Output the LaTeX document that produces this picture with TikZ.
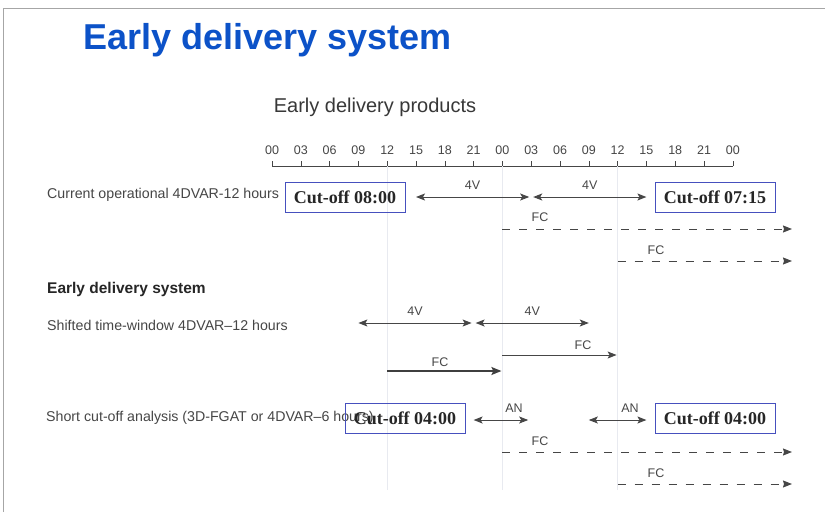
\documentclass[tikz,border=0pt]{standalone}
\usepackage{fontspec}
\setmainfont{Liberation Serif}
\setsansfont{Liberation Sans}
\usetikzlibrary{arrows.meta}
\definecolor{titleblue}{RGB}{12,82,200}
\definecolor{boxblue}{RGB}{70,80,190}
\definecolor{ink}{RGB}{70,70,70}
\definecolor{guide}{RGB}{232,234,240}
\tikzset{
  lbl/.style={font=\sffamily\fontsize{14.2}{16}\selectfont, text=ink, inner sep=0pt, anchor=west},
  tick/.style={font=\sffamily\fontsize{12.5}{14}\selectfont, text=ink, inner sep=0pt},
  tag/.style={font=\sffamily\fontsize{12.5}{14}\selectfont, text=ink, inner sep=0pt},
  cutbox/.style={draw=boxblue, line width=0.9pt, font=\bfseries\fontsize{18}{20}\selectfont,
    text=black!85, minimum width=120pt, minimum height=30pt, inner sep=0pt},
  span/.style={draw=ink, line width=1pt, {Stealth[length=9pt,width=7pt,inset=2pt]}-{Stealth[length=9pt,width=7pt,inset=2pt]}},
  run/.style={draw=ink, line width=1pt, -{Stealth[length=9pt,width=7pt,inset=2pt]}},
  runbold/.style={draw=ink!90!black, line width=1.6pt, -{Stealth[length=10pt,width=8pt,inset=2pt]}},
  fcdash/.style={draw=ink, line width=1pt, dash pattern=on 8pt off 9pt, -{Stealth[length=9pt,width=7pt,inset=1pt]}},
}
\begin{document}
\begin{tikzpicture}[x=1pt, y=-1pt]
\useasboundingbox (0,0) rectangle (825,512);
\fill[white] (0,0) rectangle (825,512);
% page frame
\draw[gray!70, line width=1pt] (3,512) -- (3,8) -- (825,8);

% titles
\node[font=\sffamily\bfseries\fontsize{36}{40}\selectfont, text=titleblue, anchor=west, inner sep=0pt] (title) at (83,40) {Early delivery system};
\node[font=\sffamily\fontsize{20}{24}\selectfont, text=ink!80!black, inner sep=0pt] (sub) at (375,107) {Early delivery products};

% time axis: 16 steps of 3 hours
\foreach \i/\h in {0/00,1/03,2/06,3/09,4/12,5/15,6/18,7/21,8/00,9/03,10/06,11/09,12/12,13/15,14/18,15/21,16/00} {
  \coordinate (t\i) at ({272+28.8*\i},166);
  \node[tick] (h\i) at ({272+28.8*\i},150) {\h};
  \draw[ink, line width=0.6pt] (t\i) -- ++(0,-5);
}
\draw[ink, line width=0.6pt] (t0) -- (t16);

% guide lines at 12 UTC, 00 UTC, 12 UTC
\foreach \i in {4,8,12}
  \draw[guide, line width=0.8pt] (t\i) -- ({272+28.8*\i},490);

% current operational system
\node[lbl] (cur) at (47,195) {Current operational 4DVAR-12 hours};
\node[cutbox] (cutA) at (345,197) {Cut-off 08:00};
\node[cutbox] (cutB) at (715,197) {Cut-off 07:15};
\coordinate (c1) at ({272+28.8*5},197);
\coordinate (c2) at ({272+28.8*9-2},197);
\coordinate (c3) at ({272+28.8*9+2},197);
\coordinate (c4) at ({272+28.8*13},197);
\draw[span] (c1) -- node[tag, above=7pt] (v1) {4V} (c2);
\draw[span] (c3) -- node[tag, above=7pt] (v2) {4V} (c4);
\coordinate (f1s) at (t8 |- 0,229);
\coordinate (f1e) at (792,229);
\draw[fcdash] (f1s) -- (f1e);
\node[tag] (fc1) at (540,217) {FC};
\coordinate (f2s) at (t12 |- 0,261);
\coordinate (f2e) at (792,261);
\draw[fcdash] (f2s) -- (f2e);
\node[tag] (fc2) at (656,250) {FC};

% early delivery system
\node[lbl, font=\sffamily\bfseries\fontsize{15.5}{18}\selectfont, text=black!85] (eds) at (47,289) {Early delivery system};

\node[lbl] (shift) at (47,325) {Shifted time-window 4DVAR--12 hours};
\coordinate (s1) at ({272+28.8*3},323);
\coordinate (s2) at ({272+28.8*7-2},323);
\coordinate (s3) at ({272+28.8*7+2},323);
\coordinate (s4) at ({272+28.8*11},323);
\draw[span] (s1) -- node[tag, above=7pt] (v3) {4V} (s2);
\draw[span] (s3) -- node[tag, above=7pt] (v4) {4V} (s4);
\coordinate (g1s) at (t8 |- 0,355);
\coordinate (g1e) at ({272+28.8*12-1},355);
\draw[run] (g1s) -- (g1e);
\node[tag] (fc3) at (583,345) {FC};
\coordinate (g2s) at (t4 |- 0,371);
\coordinate (g2e) at ({272+28.8*8-1},371);
\draw[runbold] (g2s) -- (g2e);
\node[tag] (fc4) at (440,362) {FC};

\node[lbl] (short) at (46,418) {Short cut-off analysis (3D-FGAT or 4DVAR--6 hours)};
\node[cutbox] (cutC) at (405,418) {Cut-off 04:00};
\node[cutbox] (cutD) at (715,418) {Cut-off 04:00};
\coordinate (a1) at ({272+28.8*7},420);
\coordinate (a2) at ({272+28.8*9-3},420);
\coordinate (a3) at ({272+28.8*11},420);
\coordinate (a4) at ({272+28.8*13},420);
\draw[span] (a1) -- (a2);
\node[tag] (an1) at (514,408) {AN};
\draw[span] (a3) -- (a4);
\node[tag] (an2) at (630,408) {AN};
\coordinate (k1s) at (t8 |- 0,452);
\coordinate (k1e) at (792,452);
\draw[fcdash] (k1s) -- (k1e);
\node[tag] (fc5) at (540,441) {FC};
\coordinate (k2s) at (t12 |- 0,484);
\coordinate (k2e) at (792,484);
\draw[fcdash] (k2s) -- (k2e);
\node[tag] (fc6) at (656,473) {FC};
\end{tikzpicture}
\end{document}
